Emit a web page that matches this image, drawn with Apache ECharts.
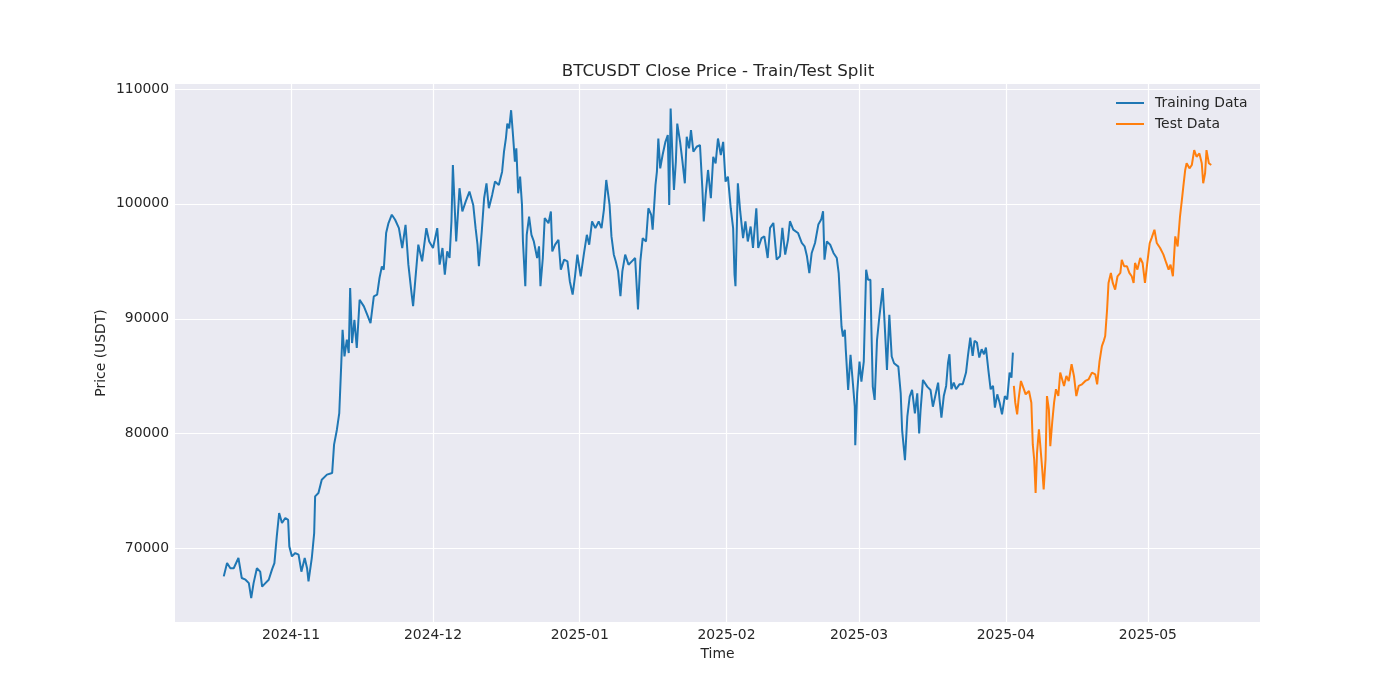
<!DOCTYPE html>
<html>
<head>
<meta charset="utf-8">
<title>BTCUSDT Close Price - Train/Test Split</title>
<script src="https://cdn.jsdelivr.net/npm/echarts@6/dist/echarts.min.js"></script>
<style>
  html, body { margin: 0; padding: 0; background: #ffffff; }
  #chart { width: 1400px; height: 700px; }
</style>
</head>
<body>
<div id="chart"></div>
<script>
// day offsets are counted from 2024-11-01 00:00 UTC
const START = Date.UTC(2024, 10, 1);
const DAY = 86400000;

// [day offset, close price]
const trainPoints = [
  [-14.2, 67590], [-13.5, 68750], [-12.8, 68300], [-12.1, 68300], [-11.1, 69190], [-10.4, 67450],
  [-9.6, 67300], [-8.9, 67000], [-8.4, 65700], [-7.9, 67000], [-7.2, 68300], [-6.5, 68000],
  [-6.1, 66700], [-5.4, 67000], [-4.7, 67300], [-4.0, 68200], [-3.5, 68750], [-3.0, 71070],
  [-2.5, 73100], [-1.9, 72230], [-1.2, 72670], [-0.6, 72500], [-0.35, 70200], [0.2, 69330],
  [0.9, 69620], [1.6, 69480], [2.2, 68000], [2.9, 69190], [3.4, 68300], [3.7, 67150],
  [4.4, 69190], [4.9, 71360], [5.1, 74550], [5.8, 74840], [6.5, 76000], [7.6, 76440],
  [8.7, 76580], [9.1, 79050], [9.7, 80350], [10.2, 81800], [10.6, 85860], [10.9, 89050],
  [11.3, 86730], [11.8, 88180], [12.2, 87020], [12.5, 92680], [12.9, 87890], [13.4, 89920],
  [13.9, 87460], [14.5, 91660], [15.4, 91080], [16.1, 90360], [16.8, 89630], [17.5, 91950],
  [18.2, 92100], [18.7, 93550], [19.2, 94560], [19.6, 94270], [20.1, 97460], [20.6, 98330],
  [21.3, 99060], [22.0, 98620],
  [22.8, 97890], [23.5, 96160], [24.2, 98180], [24.8, 94710], [25.5, 92110], [25.8, 91100],
  [26.3, 93560], [26.9, 96450], [27.7, 95000], [28.6, 97890], [29.2, 96730], [30.0, 96160],
  [30.9, 97890], [31.4, 94710], [32.0, 96160], [32.5, 93840], [33.0, 95870], [33.5, 95290],
  [33.9, 98470], [34.2, 103380], [34.6, 103530], [34.9, 96730], [35.6, 101360], [36.2, 99340],
  [36.9, 100200], [37.7, 101070], [38.5, 99910], [39.0, 97890], [39.4, 96450], [39.7, 94570],
  [40.3, 97600], [40.8, 100490], [41.3, 101790], [41.8, 99620], [42.5, 100780], [43.1, 101940],
  [43.9, 101650], [44.6, 102800], [45.0, 104540], [45.4, 105690], [45.7, 106990], [46.1, 106560],
  [46.5, 108150], [46.9, 105980], [47.3, 103670], [47.6, 104830], [48.0, 100920], [48.4, 102370],
  [48.8, 99910], [49.0, 96730], [49.5, 92830], [49.8, 97310], [50.3, 98900], [50.8, 97310],
  [51.3, 96730], [52.0, 95290], [52.4, 96300], [52.7, 92830], [53.2, 95290], [53.6, 98760],
  [54.4, 98320], [54.9, 99340], [55.2, 95870], [55.8, 96450], [56.5, 96880], [57.0, 94280],
  [57.7, 95150], [58.4, 95000], [58.9, 93270], [59.5, 92110], [60.0, 93700], [60.5, 95580],
  [61.2, 93700], [61.9, 95720],
  [62.5, 97310], [63.0, 96450], [63.6, 98470], [64.3, 97890], [65.0, 98470], [65.6, 97890],
  [66.1, 99480], [66.6, 102080], [67.0, 101940], [67.3, 99910], [67.7, 97170], [68.2, 95580],
  [68.6, 95000], [69.1, 94130], [69.6, 91970], [70.0, 94130], [70.6, 95580], [71.3, 94710],
  [72.0, 95000], [72.7, 95290], [73.3, 90810], [73.8, 95000], [74.3, 97020], [75.0, 96730],
  [75.5, 99620], [76.1, 99050], [76.4, 97750], [77.0, 101650], [77.3, 102800], [77.6, 105690],
  [78.0, 103090], [78.5, 104250], [79.1, 105400], [79.6, 105980], [79.9, 99910], [80.2, 108300],
  [80.6, 103960], [80.9, 101210], [81.3, 103670], [81.6, 106990], [82.2, 105400], [82.7, 103670],
  [83.2, 101790], [83.6, 105840], [84.1, 104830], [84.5, 106420], [85.0, 104540], [85.7, 104970],
  [86.4, 105120], [86.9, 101360], [87.2, 98470], [87.6, 100780], [88.1, 102950], [88.7, 100490],
  [89.2, 104100], [89.7, 103530], [90.2, 105690], [90.8, 104250], [91.3, 105400], [91.8, 101940],
  [92.3, 102370], [92.9, 99620], [93.4, 97890], [93.7, 93840], [93.9, 92830], [94.4, 101790],
  [94.9, 99340], [95.5, 97020], [96.0, 98470], [96.5, 96730], [97.1, 98030], [97.6, 96160],
  [98.3, 99620], [98.7, 96160], [99.4, 97020],
  [100.0, 97180], [100.7, 95290], [101.2, 97910], [101.9, 98340], [102.6, 95150], [103.3, 95440],
  [103.8, 97910], [104.4, 95580], [105.0, 96890], [105.4, 98490], [106.1, 97760], [107.1, 97470],
  [107.9, 96600], [108.5, 96310], [109.0, 95440], [109.5, 93980], [110.0, 95730], [110.7, 96600],
  [111.4, 98200], [112.0, 98630], [112.4, 99360], [112.7, 95150], [113.2, 96740], [113.9, 96450],
  [114.6, 95730], [115.3, 95290], [115.7, 93980], [116.0, 91660], [116.3, 89330], [116.6, 88460],
  [117.0, 89040], [117.2, 87300], [117.7, 83810], [118.2, 86870], [118.7, 84390], [119.1, 82350],
  [119.2, 79010], [119.6, 83520], [120.1, 86280], [120.5, 84530], [121.0, 86280], [121.5, 94270],
  [121.9, 93400], [122.4, 93400], [122.6, 89330], [122.9, 84100], [123.3, 82940], [123.8, 88170],
  [124.3, 90200], [125.0, 92670], [125.4, 89620], [125.9, 85550], [126.4, 90350], [126.9, 86720],
  [127.4, 86130], [128.3, 85840], [128.8, 83520], [129.1, 80320], [129.7, 77700], [130.2, 81480],
  [130.7, 83230], [131.2, 83810], [131.8, 81770], [132.3, 83520], [132.7, 80030], [133.0, 82060],
  [133.5, 84680], [134.4, 84100], [135.1, 83810], [135.6, 82350],
  [136.1, 83280], [136.7, 84450], [137.0, 83000], [137.4, 81400], [137.9, 83280], [138.4, 84160],
  [138.8, 86190], [139.1, 86920], [139.5, 83870], [140.0, 84450], [140.5, 83870], [141.2, 84300],
  [141.9, 84300], [142.6, 85320], [143.0, 86770], [143.5, 88370], [144.0, 86770], [144.4, 88080],
  [144.9, 87940], [145.4, 86630], [145.9, 87350], [146.4, 86920], [146.8, 87500], [147.3, 85610],
  [147.8, 83870], [148.3, 84160], [148.7, 82270], [149.2, 83430], [149.7, 82700], [150.2, 81690],
  [150.8, 83280], [151.3, 82990], [151.8, 85320], [152.2, 84880], [152.5, 87060]
];

const testPoints = [
  [152.7, 84160], [153.0, 82700], [153.4, 81690], [153.7, 82990], [154.2, 84590], [154.7, 84010],
  [155.2, 83430], [155.9, 83720], [156.4, 82700], [156.7, 79070], [157.0, 77760], [157.3, 74850],
  [157.6, 78340], [158.0, 80380], [158.3, 78920], [158.7, 76890], [159.0, 75150], [159.4, 77760],
  [159.7, 83280], [160.1, 82120], [160.4, 78920], [160.8, 80960], [161.2, 82700], [161.6, 83870],
  [162.1, 83280], [162.5, 85320], [162.9, 85470], [163.3, 84160], [163.8, 85030], [164.3, 84590],
  [164.9, 86050], [165.4, 85030], [165.9, 83280], [166.4, 84160], [167.1, 84300], [167.8, 84590],
  [168.5, 84740], [169.2, 85320], [169.9, 85170], [170.3, 84300], [170.8, 86300], [171.3, 87630],
  [171.7, 88080], [172.0, 88500], [172.4, 90810], [172.7, 93120], [173.2, 93990], [173.6, 93120],
  [174.1, 92540], [174.6, 93700], [175.2, 93990], [175.5, 95140], [176.0, 94570], [176.6, 94570],
  [177.1, 93990], [177.6, 93700], [178.0, 93120], [178.3, 94860], [178.8, 94280], [179.4, 95290],
  [179.9, 94860], [180.4, 93120], [180.8, 94570], [181.4, 96590], [181.8, 97020], [182.4, 97750],
  [182.9, 96590], [183.6, 96160], [184.3, 95580], [184.9, 94860], [185.4, 94280], [185.8, 94710],
  [186.3, 93700], [186.8, 97170], [187.3, 96300], [187.8, 98900], [188.2, 100350], [188.5, 101500],
  [188.9, 102950], [189.2, 103530], [189.8, 103090], [190.3, 103380], [190.8, 104680], [191.3, 104100],
  [191.9, 104390], [192.4, 103530], [192.7, 101790], [193.1, 102660], [193.4, 104680], [193.9, 103530],
  [194.4, 103380]
];

const monthTicks = [[2024, 10], [2024, 11], [2025, 0], [2025, 1], [2025, 2], [2025, 3], [2025, 4]];
const monthLabels = ['2024-11', '2024-12', '2025-01', '2025-02', '2025-03', '2025-04', '2025-05'];
const priceTicks = [70000, 80000, 90000, 100000, 110000];

const xMinDay = -24.5, xMaxDay = 204.7;
const yMin = 63620, yMax = 110430;

const toSeries = pts => pts.map(p => [START + p[0] * DAY, p[1]]);
const monthTs = monthTicks.map(m => Date.UTC(m[0], m[1], 1));

const textColor = '#262626';
const font = 'DejaVu Sans';
const fs = 13.9;

const chart = echarts.init(document.getElementById('chart'));
chart.setOption({
  animation: false,
  backgroundColor: '#ffffff',
  textStyle: { fontFamily: font, color: textColor },
  title: {
    text: 'BTCUSDT Close Price - Train/Test Split',
    left: 713, top: 58, textAlign: 'center',
    textStyle: { fontFamily: font, fontSize: 16.7, fontWeight: 'normal', color: textColor }
  },
  legend: {
    left: 1116, top: 96, orient: 'vertical', padding: 0,
    icon: 'rect', itemWidth: 28, itemHeight: 2, itemGap: 7,
    textStyle: { fontFamily: font, fontSize: fs, color: textColor, padding: [0, 0, 0, 6] },
    data: ['Training Data', 'Test Data']
  },
  grid: {
    left: 175, right: 140, top: 84, bottom: 78,
    show: true, backgroundColor: '#eaeaf2', borderWidth: 0
  },
  // time placed on a plain value scale (ms) so the month ticks can be set by hand
  xAxis: {
    type: 'value',
    min: START + xMinDay * DAY,
    max: START + xMaxDay * DAY,
    name: 'Time', nameLocation: 'middle', nameGap: 25,
    nameTextStyle: { fontFamily: font, fontSize: fs, color: textColor },
    axisLine: { show: false },
    axisTick: { show: false, customValues: monthTs },
    axisLabel: {
      customValues: monthTs, margin: 6,
      fontFamily: font, fontSize: fs, color: textColor,
      formatter: v => monthLabels[monthTs.indexOf(v)] || ''
    },
    splitLine: { show: true, lineStyle: { color: '#ffffff', width: 1.2 } }
  },
  yAxis: {
    type: 'value',
    min: yMin, max: yMax,
    name: 'Price (USDT)', nameLocation: 'middle', nameGap: 67, nameMoveOverlap: false,
    nameTextStyle: { fontFamily: font, fontSize: fs, color: textColor },
    axisLine: { show: false },
    axisTick: { show: false, customValues: priceTicks },
    axisLabel: {
      customValues: priceTicks, margin: 6,
      fontFamily: font, fontSize: fs, color: textColor,
      formatter: v => String(v)
    },
    splitLine: { show: true, lineStyle: { color: '#ffffff', width: 1.2 } }
  },
  series: [
    {
      name: 'Training Data', type: 'line', data: toSeries(trainPoints),
      showSymbol: false, color: '#1f77b4', lineStyle: { width: 2 }
    },
    {
      name: 'Test Data', type: 'line', data: toSeries(testPoints),
      showSymbol: false, color: '#ff7f0e', lineStyle: { width: 2 }
    }
  ]
});
</script>
</body>
</html>
